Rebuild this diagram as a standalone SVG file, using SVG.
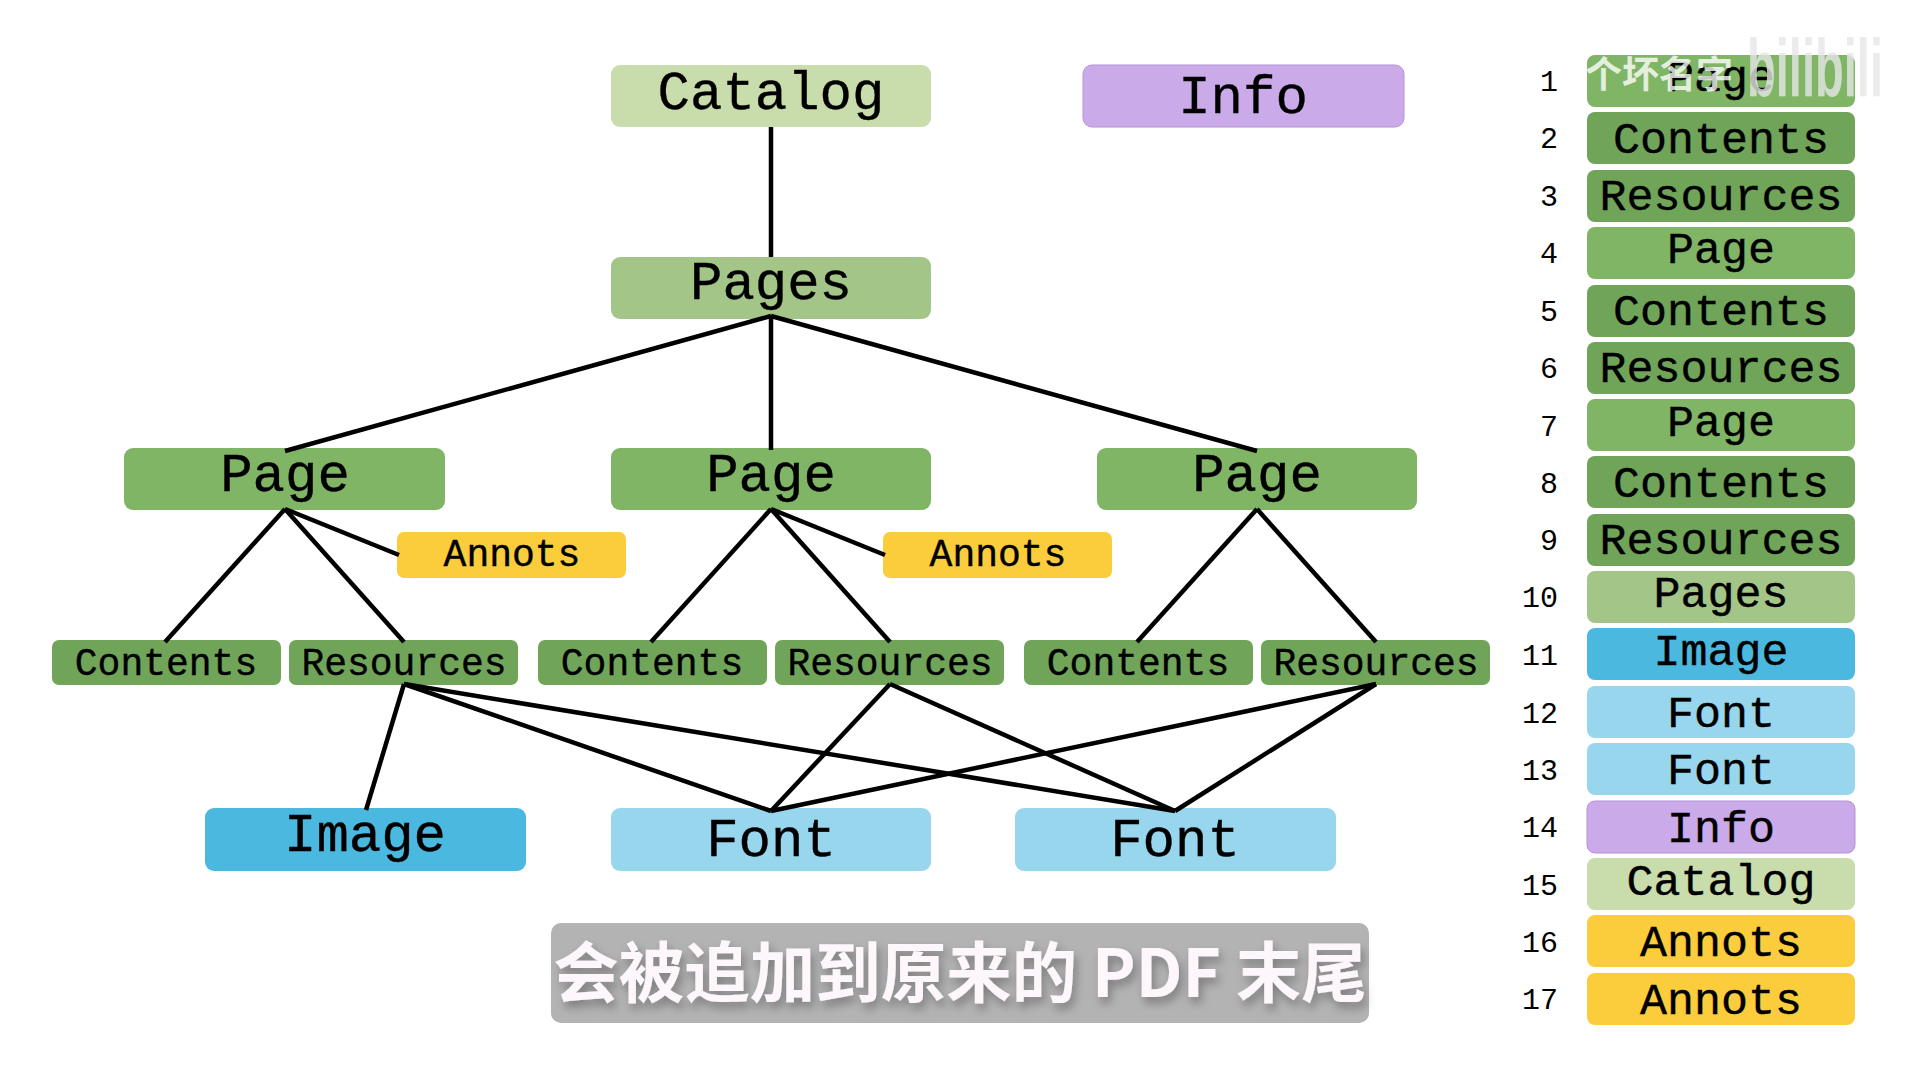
<svg xmlns="http://www.w3.org/2000/svg" width="1920" height="1080" viewBox="0 0 1920 1080">
<style>
text{font-family:"Liberation Mono","Courier New",monospace;text-anchor:middle;fill:#000;stroke:#000;stroke-width:.4}
.b{font-size:54px}.s{font-size:38px}.r{font-size:45px}
.n{font-size:30px;text-anchor:end;stroke:none}
.ca{fill:#c9dcab}.ps{fill:#a4c588}.pg{fill:#80b566}.ct{fill:#70a559}.an{fill:#fbcd3c}.im{fill:#4bb8df}.fo{fill:#97d6ec}.in{fill:#cbaaea;stroke:#b592d8;stroke-width:1}
#connectors line{stroke:#000;stroke-width:4.5;stroke-linecap:butt}
.cap{font-family:"Noto Sans CJK SC","Noto Sans",sans-serif;font-size:65.5px;font-weight:700;fill:#fdf6fa;stroke:none}
.wm{font-family:"Noto Sans CJK SC",sans-serif;font-size:37px;font-weight:700;fill:#fff;fill-opacity:.8;text-anchor:start;stroke:none}
.bl{font-family:"Liberation Sans",sans-serif;font-size:82px;font-weight:700;fill:#e6e6e6;fill-opacity:.8;text-anchor:start;stroke:none}
</style>
<defs><filter id="sh" x="-5%" y="-20%" width="110%" height="150%"><feDropShadow dx="3" dy="6" stdDeviation="5" flood-color="#000" flood-opacity=".3"/></filter></defs>
<rect width="1920" height="1080" fill="#fff"/>
<g id="catalog"><rect class="ca" x="611" y="65" width="320" height="62" rx="9"/><text class="b" x="771" y="109">Catalog</text></g>
<g id="info"><rect class="in" x="1083" y="65" width="321" height="62" rx="9"/><text class="b" x="1243" y="113">Info</text></g>
<g id="pages"><rect class="ps" x="611" y="257" width="320" height="62" rx="9"/><text class="b" x="771" y="299">Pages</text></g>
<g id="page1"><rect class="pg" x="124" y="448" width="321" height="62" rx="9"/><text class="b" x="285" y="491">Page</text></g>
<g id="page2"><rect class="pg" x="611" y="448" width="320" height="62" rx="9"/><text class="b" x="771" y="491">Page</text></g>
<g id="page3"><rect class="pg" x="1097" y="448" width="320" height="62" rx="9"/><text class="b" x="1257" y="491">Page</text></g>
<g id="annots1"><rect class="an" x="397" y="532" width="229" height="46" rx="7"/><text class="s" x="512" y="566">Annots</text></g>
<g id="annots2"><rect class="an" x="883" y="532" width="229" height="46" rx="7"/><text class="s" x="998" y="566">Annots</text></g>
<g id="contents1"><rect class="ct" x="52" y="640" width="229" height="45" rx="7"/><text class="s" x="166" y="675">Contents</text></g>
<g id="resources1"><rect class="ct" x="289" y="640" width="229" height="45" rx="7"/><text class="s" x="404" y="675">Resources</text></g>
<g id="contents2"><rect class="ct" x="538" y="640" width="229" height="45" rx="7"/><text class="s" x="652" y="675">Contents</text></g>
<g id="resources2"><rect class="ct" x="775" y="640" width="229" height="45" rx="7"/><text class="s" x="890" y="675">Resources</text></g>
<g id="contents3"><rect class="ct" x="1024" y="640" width="229" height="45" rx="7"/><text class="s" x="1138" y="675">Contents</text></g>
<g id="resources3"><rect class="ct" x="1261" y="640" width="229" height="45" rx="7"/><text class="s" x="1376" y="675">Resources</text></g>
<g id="image"><rect class="im" x="205" y="808" width="321" height="63" rx="9"/><text class="b" x="365" y="851">Image</text></g>
<g id="font1"><rect class="fo" x="611" y="808" width="320" height="63" rx="9"/><text class="b" x="771" y="856">Font</text></g>
<g id="font2"><rect class="fo" x="1015" y="808" width="321" height="63" rx="9"/><text class="b" x="1175" y="856">Font</text></g>
<g id="connectors">
<line x1="771" y1="127" x2="771" y2="257"/>
<line x1="771" y1="316" x2="285" y2="451"/>
<line x1="771" y1="316" x2="771" y2="450"/>
<line x1="771" y1="316" x2="1257" y2="451"/>
<line x1="285" y1="509" x2="165" y2="642"/>
<line x1="285" y1="509" x2="404" y2="642"/>
<line x1="285" y1="509" x2="399" y2="555"/>
<line x1="771" y1="509" x2="651" y2="642"/>
<line x1="771" y1="509" x2="890" y2="642"/>
<line x1="771" y1="509" x2="885" y2="555"/>
<line x1="1257" y1="509" x2="1137" y2="642"/>
<line x1="1257" y1="509" x2="1376" y2="642"/>
<line x1="404" y1="684" x2="366" y2="810"/>
<line x1="404" y1="684" x2="771" y2="811"/>
<line x1="404" y1="684" x2="1175" y2="811"/>
<line x1="890" y1="684" x2="771" y2="811"/>
<line x1="890" y1="684" x2="1175" y2="811"/>
<line x1="1376" y1="684" x2="771" y2="811"/>
<line x1="1376" y1="684" x2="1175" y2="811"/>
</g>
<g id="list">
<g id="l1"><text class="n" x="1558" y="91">1</text><rect class="pg" x="1587" y="55" width="268" height="52" rx="8"/><text class="r" x="1721" y="91">Page</text></g>
<g id="l2"><text class="n" x="1558" y="148">2</text><rect class="ct" x="1587" y="112" width="268" height="52" rx="8"/><text class="r" x="1721" y="153">Contents</text></g>
<g id="l3"><text class="n" x="1558" y="206">3</text><rect class="ct" x="1587" y="170" width="268" height="52" rx="8"/><text class="r" x="1721" y="210">Resources</text></g>
<g id="l4"><text class="n" x="1558" y="263">4</text><rect class="pg" x="1587" y="227" width="268" height="52" rx="8"/><text class="r" x="1721" y="263">Page</text></g>
<g id="l5"><text class="n" x="1558" y="321">5</text><rect class="ct" x="1587" y="285" width="268" height="52" rx="8"/><text class="r" x="1721" y="325">Contents</text></g>
<g id="l6"><text class="n" x="1558" y="378">6</text><rect class="ct" x="1587" y="342" width="268" height="52" rx="8"/><text class="r" x="1721" y="382">Resources</text></g>
<g id="l7"><text class="n" x="1558" y="436">7</text><rect class="pg" x="1587" y="399" width="268" height="52" rx="8"/><text class="r" x="1721" y="436">Page</text></g>
<g id="l8"><text class="n" x="1558" y="493">8</text><rect class="ct" x="1587" y="456" width="268" height="52" rx="8"/><text class="r" x="1721" y="497">Contents</text></g>
<g id="l9"><text class="n" x="1558" y="550">9</text><rect class="ct" x="1587" y="514" width="268" height="52" rx="8"/><text class="r" x="1721" y="554">Resources</text></g>
<g id="l10"><text class="n" x="1558" y="607">10</text><rect class="ps" x="1587" y="571" width="268" height="52" rx="8"/><text class="r" x="1721" y="607">Pages</text></g>
<g id="l11"><text class="n" x="1558" y="665">11</text><rect class="im" x="1587" y="628" width="268" height="52" rx="8"/><text class="r" x="1721" y="665">Image</text></g>
<g id="l12"><text class="n" x="1558" y="723">12</text><rect class="fo" x="1587" y="686" width="268" height="52" rx="8"/><text class="r" x="1721" y="727">Font</text></g>
<g id="l13"><text class="n" x="1558" y="780">13</text><rect class="fo" x="1587" y="743" width="268" height="52" rx="8"/><text class="r" x="1721" y="784">Font</text></g>
<g id="l14"><text class="n" x="1558" y="837">14</text><rect class="in" x="1587" y="801" width="268" height="52" rx="8"/><text class="r" x="1721" y="842">Info</text></g>
<g id="l15"><text class="n" x="1558" y="895">15</text><rect class="ca" x="1587" y="858" width="268" height="52" rx="8"/><text class="r" x="1721" y="895">Catalog</text></g>
<g id="l16"><text class="n" x="1558" y="952">16</text><rect class="an" x="1587" y="915" width="268" height="52" rx="8"/><text class="r" x="1721" y="956">Annots</text></g>
<g id="l17"><text class="n" x="1558" y="1009">17</text><rect class="an" x="1587" y="973" width="268" height="52" rx="8"/><text class="r" x="1721" y="1014">Annots</text></g>
</g>
<g id="caption"><rect x="551" y="923" width="818" height="100" rx="10" fill="#b3b3b3"/><text class="cap" x="960" y="997" filter="url(#sh)">会被追加到原来的 PDF 末尾</text></g>
<g id="watermark"><text class="wm" x="1585" y="88">个坏名字</text><text class="bl" x="1747" y="96" textLength="136" lengthAdjust="spacingAndGlyphs">bilibili</text></g>
</svg>
